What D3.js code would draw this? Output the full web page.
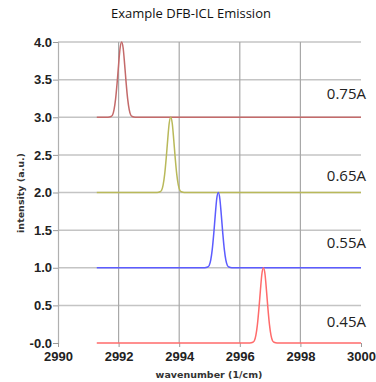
<!DOCTYPE html>
<html><head><meta charset="utf-8">
<script src="https://cdn.jsdelivr.net/npm/d3@7"></script>
<style>body{margin:0;background:#fff}svg{display:block}</style>
</head><body>
<svg id="c" width="376" height="382"></svg>
<script>
const title = "Example DFB-ICL Emission";
const xLabel = "wavenumber (1/cm)";
const yLabel = "intensity (a.u.)";
const currents = ["0.75A", "0.65A", "0.55A", "0.45A"];
const offsets = [3, 2, 1, 0];
const colors = ["#c46a6a", "#b9b95a", "#5c5cff", "#ff6b6b"];
const xTicks = [2990, 2992, 2994, 2996, 2998, 3000];
const yTicks = [0, 0.5, 1, 1.5, 2, 2.5, 3, 3.5, 4];
const yTickLabels = ["-0.0", "0.5", "1.0", "1.5", "2.0", "2.5", "3.0", "3.5", "4.0"];

const wn075 = [2991.28, 2991.65, 2991.75, 2991.80, 2991.85, 2991.90, 2991.95, 2992.00, 2992.05, 2992.10, 2992.15, 2992.20, 2992.25, 2992.30, 2992.35, 2992.40, 2992.45, 2992.55, 3000.00];
const in075 = [0, 0, 0.01, 0.03, 0.10, 0.24, 0.45, 0.70, 0.92, 1.00, 0.92, 0.70, 0.45, 0.24, 0.10, 0.03, 0.01, 0, 0];
const wn065 = [2991.28, 2993.27, 2993.37, 2993.42, 2993.47, 2993.52, 2993.57, 2993.62, 2993.67, 2993.72, 2993.77, 2993.82, 2993.87, 2993.92, 2993.97, 2994.02, 2994.07, 2994.17, 3000.00];
const in065 = [0, 0, 0.01, 0.03, 0.10, 0.24, 0.45, 0.70, 0.92, 1.00, 0.92, 0.70, 0.45, 0.24, 0.10, 0.03, 0.01, 0, 0];
const wn055 = [2991.28, 2994.84, 2994.94, 2994.99, 2995.04, 2995.09, 2995.14, 2995.19, 2995.24, 2995.29, 2995.34, 2995.39, 2995.44, 2995.49, 2995.54, 2995.59, 2995.64, 2995.74, 3000.00];
const in055 = [0, 0, 0.01, 0.03, 0.10, 0.24, 0.45, 0.70, 0.92, 1.00, 0.92, 0.70, 0.45, 0.24, 0.10, 0.03, 0.01, 0, 0];
const wn045 = [2991.28, 2996.33, 2996.43, 2996.48, 2996.53, 2996.58, 2996.63, 2996.68, 2996.73, 2996.78, 2996.83, 2996.88, 2996.93, 2996.98, 2997.03, 2997.08, 2997.13, 2997.23, 3000.00];
const in045 = [0, 0, 0.01, 0.03, 0.10, 0.24, 0.45, 0.70, 0.92, 1.00, 0.92, 0.70, 0.45, 0.24, 0.10, 0.03, 0.01, 0, 0];
const labelBaselines = [99, 181, 248, 327];

const series = [
  {wn: wn075, v: in075},
  {wn: wn065, v: in065},
  {wn: wn055, v: in055},
  {wn: wn045, v: in045}
];

const svg = d3.select("#c");
const L = 58, R = 361, T = 42, B = 343;
const x = d3.scaleLinear().domain([2990, 3000]).range([L, R]);
const y = d3.scaleLinear().domain([0, 4]).range([B, T]);

// title
svg.append("text").attr("x", 191).attr("y", 18).attr("text-anchor", "middle")
  .attr("font-family", "Open Sans").attr("font-size", 13).attr("fill", "#111").text(title);

// horizontal grid
svg.append("g").selectAll("line").data(yTicks.filter(d => d > 0)).join("line")
  .attr("x1", L).attr("x2", R).attr("y1", d => y(d)).attr("y2", d => y(d))
  .attr("stroke", "#c4c4c4").attr("stroke-width", 1.5);
// vertical grid
svg.append("g").selectAll("line").data(xTicks.filter(d => d > 2990 && d < 3000)).join("line")
  .attr("x1", d => x(d)).attr("x2", d => x(d)).attr("y1", T).attr("y2", B)
  .attr("stroke", "#a8a8a8").attr("stroke-width", 1.2);

// axes
const yAxis = d3.axisLeft(y).tickValues(yTicks).tickFormat((d, i) => yTickLabels[i]).tickSize(5).tickPadding(1);
const gy = svg.append("g").attr("transform", `translate(${L},0)`).call(yAxis);
gy.select(".domain").attr("stroke", "#b0b0b0").attr("stroke-width", 1.2);
gy.selectAll(".tick line").attr("stroke", "#999");
gy.selectAll("text").attr("font-family", "Liberation Sans").attr("font-weight", "bold")
  .attr("font-size", 13).attr("fill", "#222");

const xAxis = d3.axisBottom(x).tickValues(xTicks).tickFormat(d3.format("d")).tickSize(4).tickPadding(5);
const gx = svg.append("g").attr("transform", `translate(0,${B})`).call(xAxis);
gx.select(".domain").remove();
gx.selectAll(".tick line").attr("stroke", "#999");
gx.selectAll("text").attr("font-family", "Liberation Sans").attr("font-weight", "bold")
  .attr("font-size", 13).attr("fill", "#222");

// series
const line = d3.line().x(d => x(d[0])).y(d => y(d[1])).curve(d3.curveMonotoneX);
series.forEach((s, i) => {
  const pts = s.wn.map((w, j) => [w, s.v[j] + offsets[i]]);
  svg.append("path").datum(pts).attr("d", line).attr("fill", "none")
    .attr("stroke", colors[i]).attr("stroke-width", 1.5);
});

// current labels
svg.append("g").selectAll("text").data(currents).join("text")
  .attr("x", 366).attr("y", (d, i) => labelBaselines[i]).attr("text-anchor", "end")
  .attr("font-family", "Open Sans").attr("font-size", 15).attr("fill", "#222").text(d => d);

// axis titles
svg.append("text").attr("x", 209).attr("y", 378).attr("text-anchor", "middle")
  .attr("font-family", "DejaVu Sans").attr("font-weight", "bold").attr("font-size", 9.5)
  .attr("fill", "#333").text(xLabel);
svg.append("text").attr("transform", "translate(24,193) rotate(-90)").attr("text-anchor", "middle")
  .attr("font-family", "DejaVu Sans").attr("font-weight", "bold").attr("font-size", 9.5)
  .attr("fill", "#333").text(yLabel);
</script>
</body></html>
